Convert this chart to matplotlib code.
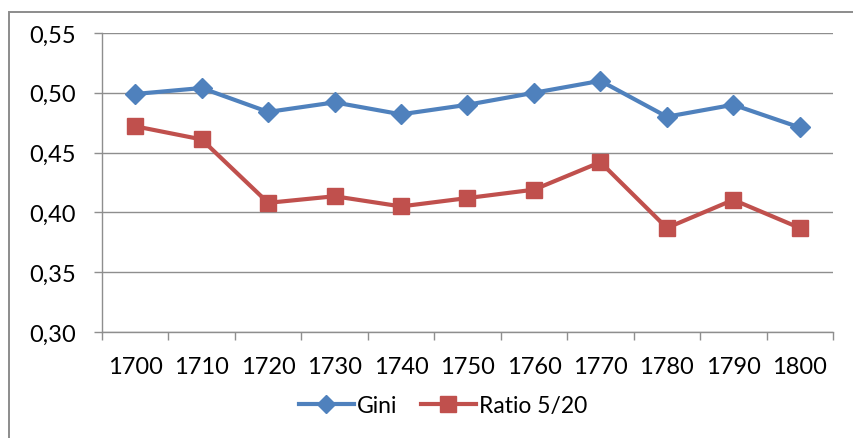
import matplotlib.pyplot as plt
from matplotlib.patches import Rectangle
from matplotlib.lines import Line2D

# data
years = ["1700", "1710", "1720", "1730", "1740", "1750", "1760", "1770", "1780", "1790", "1800"]
gini = [0.499, 0.504, 0.484, 0.492, 0.482, 0.490, 0.500, 0.510, 0.480, 0.490, 0.471]
ratio_5_20 = [0.472, 0.461, 0.408, 0.4135, 0.405, 0.412, 0.419, 0.442, 0.387, 0.4105, 0.387]
y_ticks = [0.30, 0.35, 0.40, 0.45, 0.50, 0.55]
y_tick_labels = ["0,30", "0,35", "0,40", "0,45", "0,50", "0,55"]

plt.rcParams['font.family'] = ['Lato', 'DejaVu Sans']

fig = plt.figure(figsize=(8.54, 4.39), dpi=100)
W, H = 854, 439

# outer chart frame (only left and top visible in the reference)
fig.patches.append(Rectangle((9 / W, -0.1), 1.2, (H - 13) / H + 0.1, transform=fig.transFigure,
                             fill=False, edgecolor="#8c8c8c", linewidth=1.4))

ax = fig.add_axes([102 / W, 1 - 333 / H, (833 - 102) / W, (333 - 34) / H])

blue = "#4f81bd"
red = "#c0504d"
x = list(range(len(years)))
ax.plot(x, gini, color=blue, linewidth=3, marker="D", markersize=10.5, label="Gini", zorder=3)
ax.plot(x, ratio_5_20, color=red, linewidth=3, marker="s", markersize=12, label="Ratio 5/20", zorder=3)

ax.set_xlim(-0.5, len(years) - 0.5)
ax.set_ylim(0.30, 0.55)

grid_col = "#8e8e8e"
ax.set_yticks(y_ticks)
ax.set_yticklabels(y_tick_labels)
ax.yaxis.grid(True, color=grid_col, linewidth=1)
ax.set_axisbelow(True)

ax.set_xticks(x)
ax.set_xticklabels(years)
ax.set_xticks([i - 0.5 for i in range(len(years) + 1)], minor=True)
ax.tick_params(axis="x", which="major", length=0, pad=17, labelsize=17)
ax.tick_params(axis="x", which="minor", length=6, width=1, color=grid_col, direction="out")
ax.tick_params(axis="y", length=6, width=1, color=grid_col, pad=13, labelsize=17)

for s in ["top", "right"]:
    ax.spines[s].set_visible(False)
for s in ["left", "bottom"]:
    ax.spines[s].set_color(grid_col)
    ax.spines[s].set_linewidth(1)

handles = [
    Line2D([], [], color=blue, linewidth=3, marker="D", markersize=9.5),
    Line2D([], [], color=red, linewidth=3, marker="s", markersize=11.5),
]
fig.legend(handles, ["Gini", "Ratio 5/20"], loc="center", bbox_to_anchor=(443 / W, 1 - 407 / H),
           ncol=2, frameon=False, fontsize=16.5, handlelength=2.4, handletextpad=0.15,
           columnspacing=1.0, borderpad=0)

fig.savefig("out.png", dpi=100)
